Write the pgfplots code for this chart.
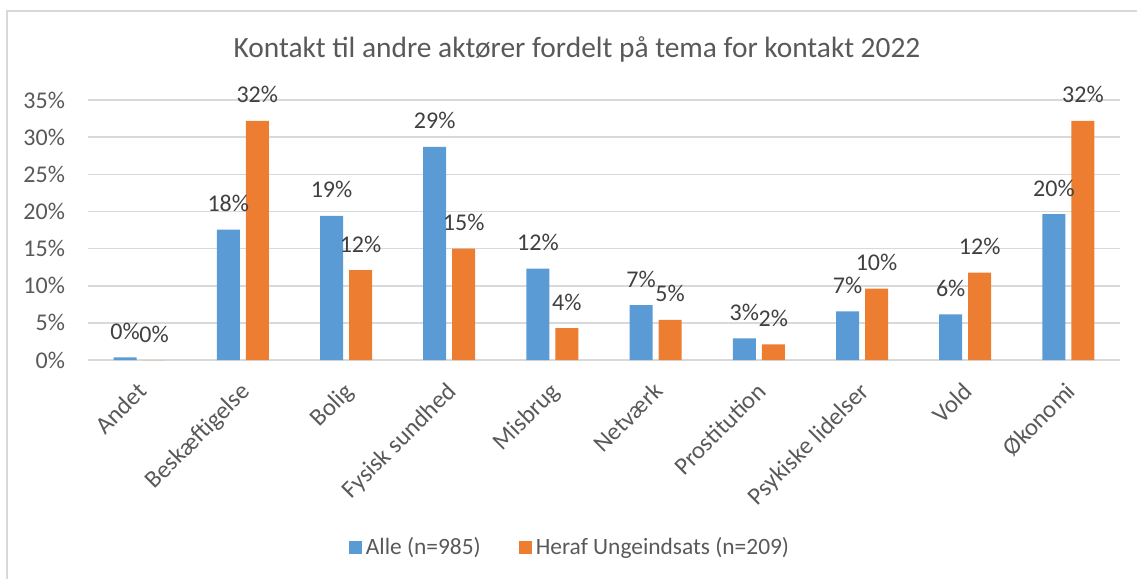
\documentclass[border=0pt]{standalone}
\usepackage{pgfplots}
\pgfplotsset{compat=1.18}
\usepackage{fontspec}
\setmainfont{Carlito}
\definecolor{cblue}{HTML}{5B9BD5}
\definecolor{corange}{HTML}{ED7D31}
\definecolor{ctext}{HTML}{595959}
\definecolor{clabel}{HTML}{404040}
\definecolor{cgrid}{HTML}{D9D9D9}

\begin{document}
\begin{tikzpicture}
% page = 1137 x 579 px, 1 px = 0.5pt, origin top left
\useasboundingbox (0,0) rectangle (568.5pt,-289.5pt);
\draw[cgrid, line width=0.8pt] (3.5pt,-289.5pt) -- (3.5pt,-5.5pt) -- (568.5pt,-5.5pt);
\node[text=ctext, font=\fontsize{14.7}{17}\selectfont] at (288.5pt,-24.5pt) {Kontakt til andre aktører fordelt på tema for kontakt 2022};

\begin{axis}[
  at={(44pt,-180pt)}, anchor=south west,
  scale only axis,
  width=516pt, height=130pt,
  ybar=3pt, bar width=11.5pt,
  xmin=-0.5, xmax=9.5,
  ymin=0, ymax=35,
  ytick={0,5,...,35},
  yticklabel={\pgfmathprintnumber{\tick}\%},
  xtick=data,
  xticklabels={Andet,Beskæftigelse,Bolig,Fysisk sundhed,Misbrug,Netværk,Prostitution,Psykiske lidelser,Vold,Økonomi},
  /pgf/number format/assume math mode=true,
  ymajorgrids,
  grid style={cgrid, line width=0.8pt},
  axis line style={draw=none},
  axis x line*=bottom,
  x axis line style={cgrid, line width=0.8pt},
  major tick length=0pt,
  tick label style={text=ctext, font=\fontsize{12}{14}\selectfont},
  yticklabel style={xshift=-8pt},
  xticklabel style={rotate=45, anchor=north east, yshift=-2.6pt, xshift=-5.15pt, font=\fontsize{12.3}{14}\selectfont},
  nodes near coords={\pgfmathprintnumber[fixed,precision=0]{\pgfplotspointmeta}\%},
  nodes near coords style={text=clabel, font=\fontsize{12}{14}\selectfont, anchor=base, inner sep=0pt, yshift=9pt, /pgf/number format/assume math mode=true},
  legend columns=2,
  legend style={at={(0.468,-0.72)}, anchor=center, draw=none, fill=none,
    font=\fontsize{11.7}{14}\selectfont, text=ctext,
    /tikz/every even column/.append style={column sep=17pt}},
  legend image code/.code={\fill[#1] (0pt,-3.25pt) rectangle (6.5pt,3.25pt);},
]
\addplot[fill=cblue, draw=none] coordinates {
  (0,0.36) (1,17.55) (2,19.4) (3,28.7) (4,12.3) (5,7.4) (6,2.9) (7,6.55) (8,6.15) (9,19.65)
};
\addplot[fill=corange, draw=none] coordinates {
  (0,0) (1,32.2) (2,12.1) (3,15.0) (4,4.3) (5,5.4) (6,2.1) (7,9.6) (8,11.75) (9,32.2)
};
\legend{Alle (n=985), Heraf Ungeindsats (n=209)}
\end{axis}
\end{tikzpicture}
\end{document}
